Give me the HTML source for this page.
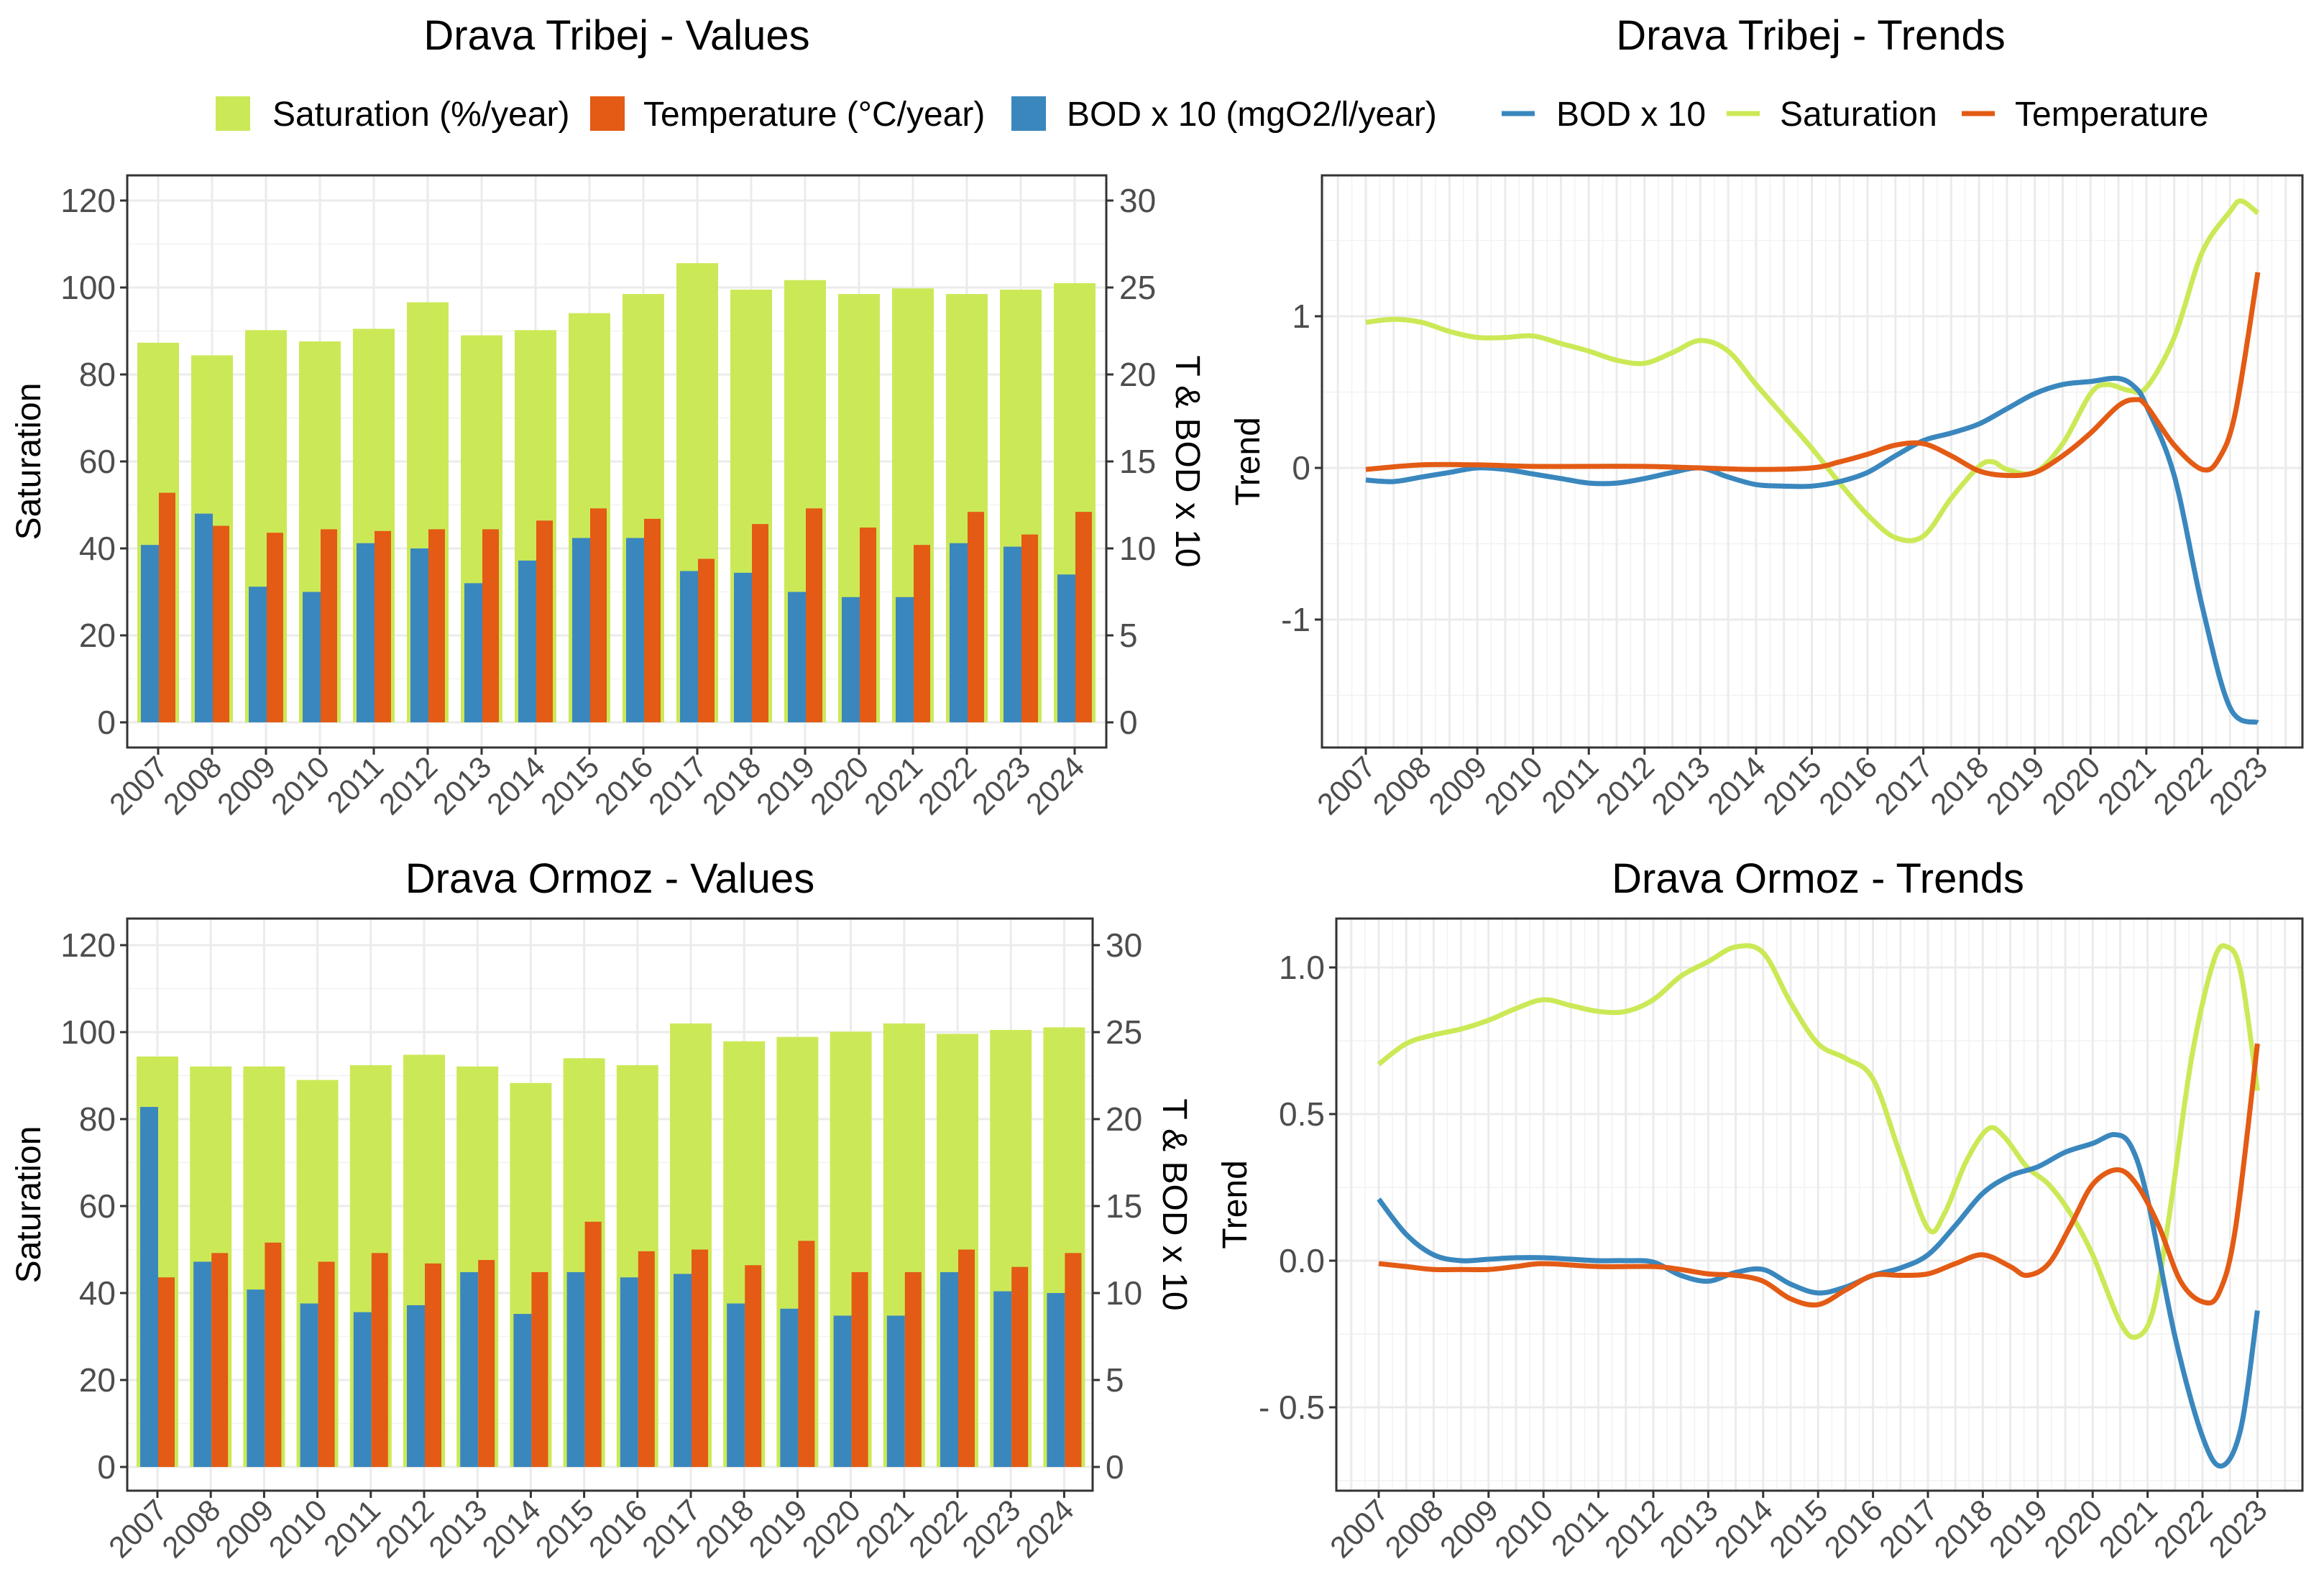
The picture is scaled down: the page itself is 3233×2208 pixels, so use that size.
<!DOCTYPE html>
<html><head><meta charset="utf-8">
<style>
html,body{margin:0;padding:0;background:#fff;}
svg{display:block;font-family:"Liberation Sans",Arial,sans-serif;}
</style></head>
<body>
<svg id="chart" width="3233" height="2208" viewBox="0 0 3233 2208" xmlns="http://www.w3.org/2000/svg">
<g id="layer"></g>
</svg>
<script>
// ---------- Data ----------
const barYears = [2007,2008,2009,2010,2011,2012,2013,2014,2015,2016,2017,2018,2019,2020,2021,2022,2023,2024];
const tribejSaturation = [87.3,84.4,90.2,87.6,90.5,96.6,89.0,90.2,94.1,98.5,105.6,99.5,101.7,98.5,99.8,98.5,99.5,101.0];
const tribejTemperature = [13.2,11.3,10.9,11.1,11.0,11.1,11.1,11.6,12.3,11.7,9.4,11.4,12.3,11.2,10.2,12.1,10.8,12.1];
const tribejBOD = [10.2,12.0,7.8,7.5,10.3,10.0,8.0,9.3,10.6,10.6,8.7,8.6,7.5,7.2,7.2,10.3,10.1,8.5];
const ormozSaturation = [94.4,92.1,92.1,89.0,92.4,94.8,92.1,88.3,94.0,92.4,102.0,97.9,98.9,100.1,102.0,99.6,100.5,101.1];
const ormozTemperature = [10.9,12.3,12.9,11.8,12.3,11.7,11.9,11.2,14.1,12.4,12.5,11.6,13.0,11.2,11.2,12.5,11.5,12.3];
const ormozBOD = [20.7,11.8,10.2,9.4,8.9,9.3,11.2,8.8,11.2,10.9,11.1,9.4,9.1,8.7,8.7,11.2,10.1,10.0];
const leftTicks = [0,20,40,60,80,100,120];
const rightTicks = [0,5,10,15,20,25,30];
const trendYears = [2007,2008,2009,2010,2011,2012,2013,2014,2015,2016,2017,2018,2019,2020,2021,2022,2023];

const tribejSatX = [2007,2007.5,2008,2008.5,2009,2009.5,2010,2010.5,2011,2011.5,2012,2012.5,2013,2013.5,2014,2014.5,2015,2015.5,2016,2016.5,2017,2017.5,2018,2018.25,2018.5,2019,2019.5,2020,2020.3,2020.7,2021,2021.5,2022,2022.5,2022.7,2023];
const tribejSatY = [0.96,0.98,0.96,0.9,0.86,0.86,0.87,0.82,0.77,0.71,0.69,0.76,0.84,0.77,0.55,0.34,0.13,-0.1,-0.31,-0.46,-0.45,-0.2,0.01,0.04,-0.01,-0.03,0.16,0.49,0.55,0.51,0.53,0.86,1.42,1.69,1.76,1.68];
const tribejBodX = [2007,2007.5,2008,2008.5,2009,2009.5,2010,2010.5,2011,2011.5,2012,2012.5,2013,2013.5,2014,2014.5,2015,2015.5,2016,2016.5,2017,2017.5,2018,2018.5,2019,2019.5,2020,2020.5,2020.8,2021,2021.5,2022,2022.5,2023];
const tribejBodY = [-0.08,-0.09,-0.06,-0.03,0,-0.01,-0.04,-0.07,-0.1,-0.1,-0.07,-0.03,0,-0.06,-0.11,-0.12,-0.12,-0.09,-0.03,0.08,0.18,0.23,0.29,0.39,0.49,0.55,0.57,0.59,0.53,0.41,-0.05,-0.91,-1.58,-1.68];
const tribejTempX = [2007,2008,2009,2010,2011,2012,2013,2014,2015,2015.5,2016,2016.5,2017,2017.5,2018,2018.5,2019,2019.5,2020,2020.5,2020.8,2021,2021.5,2022,2022.3,2022.6,2023];
const tribejTempY = [-0.01,0.02,0.02,0.01,0.01,0.01,0,-0.01,0,0.04,0.09,0.15,0.16,0.08,-0.02,-0.05,-0.03,0.08,0.23,0.41,0.45,0.41,0.15,-0.01,0.06,0.37,1.29];

const ormozSatX = [2007,2007.5,2008,2008.5,2009,2009.5,2010,2010.5,2011,2011.5,2012,2012.5,2013,2013.5,2014,2014.5,2015,2015.5,2016,2016.5,2017,2017.3,2017.7,2018.1,2018.4,2018.8,2019.2,2019.6,2020,2020.5,2020.8,2021.1,2021.4,2021.8,2022.2,2022.45,2022.7,2023];
const ormozSatY = [0.67,0.74,0.77,0.79,0.82,0.86,0.89,0.87,0.85,0.85,0.89,0.97,1.02,1.07,1.05,0.88,0.74,0.69,0.62,0.36,0.11,0.16,0.34,0.45,0.42,0.32,0.26,0.16,0.02,-0.21,-0.26,-0.17,0.16,0.69,1.02,1.07,0.98,0.58];
const ormozBodX = [2007,2007.5,2008,2008.5,2009,2009.5,2010,2010.5,2011,2011.5,2012,2012.5,2013,2013.5,2014,2014.5,2015,2015.5,2016,2016.5,2017,2017.5,2018,2018.5,2019,2019.5,2020,2020.4,2020.7,2021,2021.5,2022,2022.35,2022.7,2023];
const ormozBodY = [0.21,0.09,0.02,0,0.005,0.01,0.01,0.005,0,0,-0.005,-0.05,-0.07,-0.04,-0.03,-0.08,-0.11,-0.09,-0.05,-0.025,0.02,0.12,0.23,0.29,0.32,0.37,0.4,0.43,0.39,0.21,-0.26,-0.6,-0.7,-0.57,-0.17];
const ormozTempX = [2007,2007.5,2008,2008.5,2009,2009.5,2010,2011,2012,2012.5,2013,2013.5,2014,2014.5,2015,2015.5,2016,2016.5,2017,2017.5,2018,2018.5,2018.8,2019.2,2019.6,2020,2020.45,2020.8,2021.2,2021.6,2022,2022.3,2022.6,2023];
const ormozTempY = [-0.01,-0.02,-0.03,-0.03,-0.03,-0.02,-0.01,-0.02,-0.02,-0.03,-0.045,-0.05,-0.07,-0.13,-0.15,-0.1,-0.05,-0.05,-0.045,-0.01,0.02,-0.02,-0.05,-0.01,0.12,0.26,0.31,0.26,0.12,-0.07,-0.14,-0.11,0.11,0.74];

// ---------- helpers ----------
const NS = "http://www.w3.org/2000/svg";
const root = document.getElementById('layer');
const C_SAT = "#cbe957", C_TEMP = "#e35b14", C_BOD = "#3a87be";
const F_TITLE = 58, F_LEG = 48, F_TICK = 46, F_X = 42, F_AX = 48;
function mk(tag, attrs, parent){
  const e = document.createElementNS(NS, tag);
  for (const k in attrs) e.setAttribute(k, attrs[k]);
  (parent||root).appendChild(e);
  return e;
}
function txt(s, attrs, parent){ const e = mk('text', attrs, parent); e.textContent = s; return e; }
function smoothPath(pts){
  let d = "M" + pts[0][0] + "," + pts[0][1];
  for (let i=0;i<pts.length-1;i++){
    const p0=pts[Math.max(0,i-1)], p1=pts[i], p2=pts[i+1], p3=pts[Math.min(pts.length-1,i+2)];
    const c1x=p1[0]+(p2[0]-p0[0])/6, c1y=p1[1]+(p2[1]-p0[1])/6;
    const c2x=p2[0]-(p3[0]-p1[0])/6, c2y=p2[1]-(p3[1]-p1[1])/6;
    d += " C"+c1x+","+c1y+" "+c2x+","+c2y+" "+p2[0]+","+p2[1];
  }
  return d;
}

// ---------- bar panel ----------
function barPanel(cfg){
  const g = mk('g', {});
  
  
  const {L,R,T,B,x0,step,y0,yTop} = cfg;
  const xS = i => x0 + i*step;
  const yL = v => y0 - (v/120)*(y0-yTop);
  const yR = v => yL(v*4);
  const t = txt(cfg.title, {x:(L+R)/2, y:cfg.titleY, 'font-size':F_TITLE, 'text-anchor':'middle', fill:'#000'}, g);
  
  
  for (let v=10; v<=130; v+=20){ const yy=yL(v); if(yy>T&&yy<B) mk('line',{x1:L,x2:R,y1:yy,y2:yy,stroke:'#f2f2f2','stroke-width':1.5},g); }
  leftTicks.forEach(v=>mk('line',{x1:L,x2:R,y1:yL(v),y2:yL(v),stroke:'#ebebeb','stroke-width':3},g));
  barYears.forEach((yr,i)=>mk('line',{x1:xS(i),x2:xS(i),y1:T,y2:B,stroke:'#ebebeb','stroke-width':3},g));
  barYears.forEach((yr,i)=>{
    const c = xS(i);
    const sb = mk('rect',{x:c-29,y:yL(cfg.sat[i]),width:58,height:yL(0)-yL(cfg.sat[i]),fill:C_SAT},g);
    
    
    const bb = mk('rect',{x:c-24,y:yR(cfg.bod[i]),width:25,height:yR(0)-yR(cfg.bod[i]),fill:C_BOD},g);
    
    
    const tb = mk('rect',{x:c+1,y:yR(cfg.temp[i]),width:23,height:yR(0)-yR(cfg.temp[i]),fill:C_TEMP},g);
    
    
  });
  mk('rect',{x:L,y:T,width:R-L,height:B-T,fill:'none',stroke:'#333','stroke-width':3},g);
  leftTicks.forEach(v=>{
    mk('line',{x1:L-10,x2:L,y1:yL(v),y2:yL(v),stroke:'#333','stroke-width':3},g);
    const e = txt(String(v),{x:L-16,y:yL(v)+16,'font-size':F_TICK,'text-anchor':'end',fill:'#4d4d4d'},g);
    
    
  });
  rightTicks.forEach(v=>{
    mk('line',{x1:R,x2:R+10,y1:yR(v),y2:yR(v),stroke:'#333','stroke-width':3},g);
    const e = txt(String(v),{x:R+18,y:yR(v)+16,'font-size':F_TICK,'text-anchor':'start',fill:'#4d4d4d'},g);
    
    
  });
  barYears.forEach((yr,i)=>{
    mk('line',{x1:xS(i),x2:xS(i),y1:B,y2:B+10,stroke:'#333','stroke-width':3},g);
    const e = txt(String(yr),{x:xS(i)+16,y:B+30,'font-size':F_X,'text-anchor':'end',fill:'#4d4d4d',transform:'rotate(-45 '+(xS(i)+16)+' '+(B+30)+')'},g);
    
    
  });
  const yt = txt('Saturation',{x:0,y:0,'font-size':F_AX,'text-anchor':'middle',fill:'#000',transform:'translate(56 '+((T+B)/2)+') rotate(-90)'},g);
  
  
  const rt = txt('T & BOD x 10',{x:0,y:0,'font-size':F_AX,'text-anchor':'middle',fill:'#000',transform:'translate('+cfg.rTitleX+' '+((T+B)/2)+') rotate(90)'},g);
  
  
}

// ---------- trend panel ----------
function trendPanel(cfg){
  const g = mk('g', {});
  
  
  const {L,R,T,B,x0,step,yZero,unit} = cfg;
  const xS = yr => x0 + (yr-2007)*step;
  const yS = v => yZero - v*unit;
  const t = txt(cfg.title, {x:cfg.titleX, y:cfg.titleY, 'font-size':F_TITLE, 'text-anchor':'middle', fill:'#000'}, g);
  
  
  for (let v=cfg.minorStart; v<=3; v+=cfg.tickStep){ const yy=yS(v); if(yy>T&&yy<B) mk('line',{x1:L,x2:R,y1:yy,y2:yy,stroke:'#f2f2f2','stroke-width':1.5},g); }
  for (let yr=2006.25; yr<=2024; yr+=0.5){ const xx=xS(yr); if(xx>L&&xx<R) mk('line',{x1:xx,x2:xx,y1:T,y2:B,stroke:'#f2f2f2','stroke-width':1.5},g); }
  cfg.yTicks.forEach(v=>mk('line',{x1:L,x2:R,y1:yS(v),y2:yS(v),stroke:'#ebebeb','stroke-width':3},g));
  for (let yr=2006.5; yr<=2024; yr+=0.5){ const xx=xS(yr); if(xx>L&&xx<R) mk('line',{x1:xx,x2:xx,y1:T,y2:B,stroke:'#ebebeb','stroke-width':3},g); }
  const series = [
    ['saturation-trend-line', cfg.satX, cfg.satY, C_SAT],
    ['bod-trend-line', cfg.bodX, cfg.bodY, C_BOD],
    ['temperature-trend-line', cfg.tempX, cfg.tempY, C_TEMP]
  ];
  series.forEach(s=>{
    const pts = s[1].map((x,i)=>[xS(x), yS(s[2][i])]);
    const p = mk('path',{d:smoothPath(pts),fill:'none',stroke:s[3],'stroke-width':7,'stroke-linejoin':'round'},g);
    
    
  });
  mk('rect',{x:L,y:T,width:R-L,height:B-T,fill:'none',stroke:'#333','stroke-width':3},g);
  cfg.yTicks.forEach((v,i)=>{
    mk('line',{x1:L-10,x2:L,y1:yS(v),y2:yS(v),stroke:'#333','stroke-width':3},g);
    const e = txt(cfg.yLabels[i],{x:L-16,y:yS(v)+16,'font-size':F_TICK,'text-anchor':'end',fill:'#4d4d4d'},g);
    
    
  });
  trendYears.forEach(yr=>{
    mk('line',{x1:xS(yr),x2:xS(yr),y1:B,y2:B+10,stroke:'#333','stroke-width':3},g);
    const e = txt(String(yr),{x:xS(yr)+16,y:B+30,'font-size':F_X,'text-anchor':'end',fill:'#4d4d4d',transform:'rotate(-45 '+(xS(yr)+16)+' '+(B+30)+')'},g);
    
    
  });
  const yt = txt('Trend',{x:0,y:0,'font-size':F_AX,'text-anchor':'middle',fill:'#000',transform:'translate('+cfg.yTitleX+' '+((T+B)/2)+') rotate(-90)'},g);
  
  
}

// ---------- legends ----------
const lg = mk('g',{});


[['Saturation (%/year)',300,379,C_SAT],['Temperature (°C/year)',821,895,C_TEMP],['BOD x 10 (mgO2/l/year)',1407,1484,C_BOD]].forEach(l=>{
  const r = mk('rect',{x:l[1],y:134,width:48,height:48,fill:l[3]},lg);
  
  
  const t = txt(l[0],{x:l[2],y:175,'font-size':F_LEG,fill:'#000'},lg);
  
  
});
[['BOD x 10',2089,2165,C_BOD],['Saturation',2402,2476,C_SAT],['Temperature',2729,2803,C_TEMP]].forEach(l=>{
  const r = mk('line',{x1:l[1],x2:l[1]+46,y1:158,y2:158,stroke:l[3],'stroke-width':7},lg);
  
  
  const t = txt(l[0],{x:l[2],y:175,'font-size':F_LEG,fill:'#000'},lg);
  
  
});

barPanel({name:'tribej-values-panel',title:'Drava Tribej - Values',titleY:69,L:177,R:1539,T:244,B:1040,x0:220,step:75,y0:1005,yTop:279,sat:tribejSaturation,temp:tribejTemperature,bod:tribejBOD,rTitleX:1636});
barPanel({name:'ormoz-values-panel',title:'Drava Ormoz - Values',titleY:1242,L:177,R:1520,T:1278,B:2074,x0:219,step:74.2,y0:2041,yTop:1315,sat:ormozSaturation,temp:ormozTemperature,bod:ormozBOD,rTitleX:1618});
trendPanel({name:'tribej-trends-panel',title:'Drava Tribej - Trends',titleX:2519,titleY:69,L:1839,R:3203,T:244,B:1040,x0:1900,step:77.56,yZero:651,unit:211,
  yTicks:[-1,0,1],yLabels:['-1','0','1'],tickStep:1,minorStart:-1.5,yTitleX:1752,
  satX:tribejSatX,satY:tribejSatY,bodX:tribejBodX,bodY:tribejBodY,tempX:tribejTempX,tempY:tribejTempY});
trendPanel({name:'ormoz-trends-panel',title:'Drava Ormoz - Trends',titleX:2529,titleY:1242,L:1859,R:3203,T:1278,B:2074,x0:1918,step:76.4,yZero:1754,unit:408,
  yTicks:[-0.5,0,0.5,1],yLabels:['- 0.5','0.0','0.5','1.0'],tickStep:0.5,minorStart:-0.75,yTitleX:1734,
  satX:ormozSatX,satY:ormozSatY,bodX:ormozBodX,bodY:ormozBodY,tempX:ormozTempX,tempY:ormozTempY});
</script>
</body></html>
